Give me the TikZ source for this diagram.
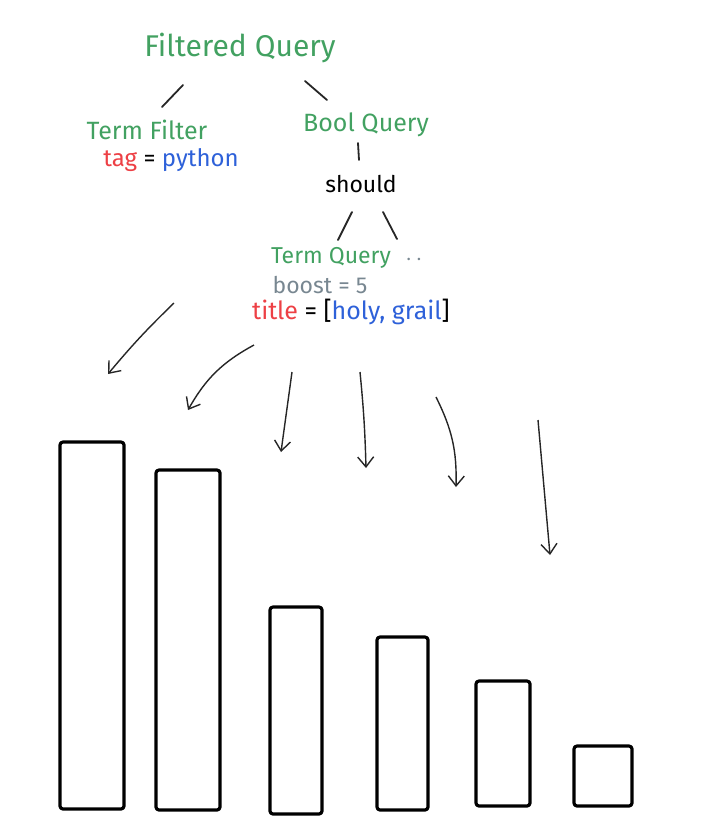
\documentclass[tikz,border=0pt]{standalone}
\usepackage{fontspec}
\setmainfont{Fira Sans}
\usetikzlibrary{arrows.meta, calc}
\definecolor{SketchGreen}{rgb}{0.26, 0.63, 0.38}
\definecolor{SketchRed}{rgb}{0.93, 0.25, 0.27}
\definecolor{SketchBlue}{rgb}{0.18, 0.38, 0.85}
\definecolor{SketchGray}{rgb}{0.47, 0.53, 0.57}

\begin{document}
\begin{tikzpicture}[x=0.5pt, y=-0.5pt,
    qry/.style={text=SketchGreen, inner sep=0pt},
    plain/.style={text=black, inner sep=0pt},
    branch/.style={draw=black!85, line width=0.9pt, line cap=round},
    hit/.style={draw=black!85, line width=0.7pt, -{Straight Barb[length=5pt, width=8pt]}},
    bar/.style={draw=black, line width=1.6pt, rounded corners=1.5pt, line join=round}]
\useasboundingbox (0,0) rectangle (728,836);

% query tree
\node[qry, font=\fontsize{15}{18}\selectfont] (fq) at (240,48) {Filtered Query};
\node[qry, font=\fontsize{12.5}{15}\selectfont] (tf) at (147,130) {Term Filter};
\node[qry, font=\fontsize{12.5}{15}\selectfont] (bq) at (366,125) {Bool Query};
\node[plain, font=\fontsize{12}{14}\selectfont] (tfv) at (171,160)
    {\textcolor{SketchRed}{tag} = \textcolor{SketchBlue}{python}};
\node[plain, font=\fontsize{11.5}{14}\selectfont] (sh) at (361,184) {should};
\node[qry, font=\fontsize{11.5}{14}\selectfont] (tq) at (331,258) {Term Query};
\node[plain, text=SketchGray, font=\fontsize{9}{11}\selectfont, anchor=base] (more) at (414,260) {.\,\,.};
\node[plain, text=SketchGray, font=\fontsize{11.5}{14}\selectfont] (tqb) at (320,285) {boost = 5};
\node[plain, font=\fontsize{12.5}{15}\selectfont] (tqv) at (351,312)
    {\textcolor{SketchRed}{title} = [\textcolor{SketchBlue}{holy, grail}]};

\draw[branch] ([shift={(-57,37)}]fq.center) -- ([shift={(15,-23)}]tf.center);
\draw[branch] ([shift={(65,33)}]fq.center) -- ([shift={(-39,-25)}]bq.center);
\draw[branch] ([shift={(-8,18)}]bq.center) -- ([shift={(-2,-24)}]sh.center);
\draw[branch] ([shift={(-9,28)}]sh.center) -- ([shift={(7,-18)}]tq.center);
\draw[branch] ([shift={(22,28)}]sh.center) -- ([shift={(-17,-21)}]more.base);

% scores hitting the documents
\coordinate (s1) at (174,303); \coordinate (e1) at (108,374);
\coordinate (s2) at (254,345); \coordinate (e2) at (188,410);
\coordinate (s3) at (292,372); \coordinate (e3) at (281,452);
\coordinate (s4) at (360,372); \coordinate (e4) at (366,468);
\coordinate (s5) at (436,397); \coordinate (e5) at (456,487);
\coordinate (s6) at (538,420); \coordinate (e6) at (550,555);

\draw[hit] (s1) to[bend right=3] (e1);
\draw[hit] (s2) to[bend right=16] (e2);
\draw[hit] (s3) -- (e3);
\draw[hit] (s4) to[bend left=2] (e4);
\draw[hit] (s5) to[bend left=14] (e5);
\draw[hit] (s6) -- (e6);

% documents
\draw[bar] (60,442) rectangle (124,809);
\draw[bar] (156,470) rectangle (220,810);
\draw[bar] (270,607) rectangle (322,814);
\draw[bar] (377,637) rectangle (428,810);
\draw[bar] (476,681) rectangle (530,806);
\draw[bar] (574,746) rectangle (632,806);

\end{tikzpicture}
\end{document}
